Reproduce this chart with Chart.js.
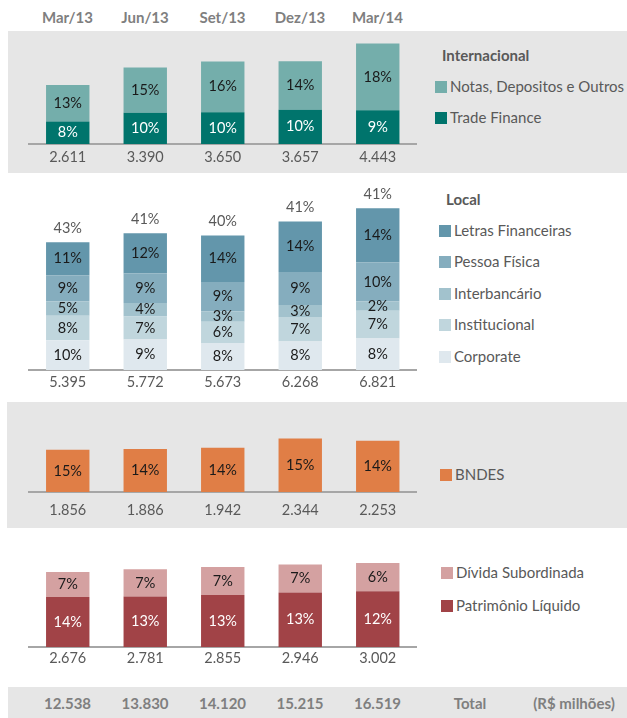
<!DOCTYPE html>
<html><head><meta charset="utf-8">
<script src="https://cdn.jsdelivr.net/npm/chart.js@4.4.1/dist/chart.umd.min.js"></script>
<style>
html,body{margin:0;padding:0;background:#fff;}
body{width:627px;height:718px;position:relative;overflow:hidden;font-family:Lato,"Open Sans",sans-serif;}
.bg{position:absolute;background:#e6e6e6;}
.box{position:absolute;}
.hdr{position:absolute;font-weight:bold;color:#7f7f7f;font-size:15px;transform:translate(-50%,-50%);white-space:nowrap;}
.lg{position:absolute;font-size:15px;color:#595959;white-space:nowrap;transform:translateY(-50%);}
.lg i{display:inline-block;width:12px;height:12px;margin-right:3px;vertical-align:-1px;}
.lt{position:absolute;font-size:15px;font-weight:bold;color:#595959;transform:translateY(-50%);}
</style></head>
<body>
<div class="bg" style="left:8px;top:31px;width:619px;height:142px"></div>
<div class="bg" style="left:7px;top:402px;width:620px;height:126px"></div>
<div class="bg" style="left:8px;top:687px;width:619px;height:31px"></div>
<div id="hdr"></div>
<div id="tot"></div>
<div class="box" style="left:0;top:31px;width:420px;height:142px"><canvas id="c1"></canvas></div>
<div class="box" style="left:0;top:173px;width:420px;height:227px"><canvas id="c2"></canvas></div>
<div class="box" style="left:0;top:402px;width:420px;height:126px"><canvas id="c3"></canvas></div>
<div class="box" style="left:0;top:528px;width:420px;height:159px"><canvas id="c4"></canvas></div>
<div id="legends"></div>
<script>
// ---------- data ----------
const categories = ['Mar/13','Jun/13','Set/13','Dez/13','Mar/14'];
const grandTotals = ['12.538','13.830','14.120','15.215','16.519'];

// Internacional (R$ milhões)
const tradeFinance = [1000, 1380, 1410, 1520, 1490];
const notasDepositos = [1611, 2010, 2240, 2137, 2953];
const tradeFinancePct = ['8%','10%','10%','10%','9%'];
const notasPct = ['13%','15%','16%','14%','18%'];
const intlTotals = ['2.611','3.390','3.650','3.657','4.443'];

// Local
const corporate = [1260, 1290, 1140, 1200, 1330];
const institucional = [1030, 970, 900, 1040, 1170];
const interbancario = [600, 570, 425, 500, 390];
const pessoaFisica = [1110, 1245, 1250, 1390, 1650];
const letrasFinanceiras = [1395, 1697, 1958, 2138, 2281];
const corporatePct = ['10%','9%','8%','8%','8%'];
const institucionalPct = ['8%','7%','6%','7%','7%'];
const interbancarioPct = ['5%','4%','3%','3%','2%'];
const pessoaFisicaPct = ['9%','9%','9%','9%','10%'];
const letrasPct = ['11%','12%','14%','14%','14%'];
const localSharePct = ['43%','41%','40%','41%','41%'];
const localTotals = ['5.395','5.772','5.673','6.268','6.821'];

// BNDES
const bndes = [1856, 1886, 1942, 2344, 2253];
const bndesPct = ['15%','14%','14%','15%','14%'];
const bndesTotals = ['1.856','1.886','1.942','2.344','2.253'];

// Capital
const patrimonio = [1790, 1800, 1860, 1950, 1990];
const dividaSub = [886, 981, 995, 996, 1012];
const patrimonioPct = ['14%','13%','13%','13%','12%'];
const dividaPct = ['7%','7%','7%','7%','6%'];
const capitalTotals = ['2.676','2.781','2.855','2.946','3.002'];

// ---------- styles ----------
const C = {
  notas:'#74aeab', tf:'#00746c',
  lf:'#6396ab', pf:'#85adbe', ib:'#a2c2cd', inst:'#c0d6dd', corp:'#dfe8ee',
  bndes:'#e07e46', ds:'#d4a1a1', pl:'#a14347'
};
const FONT = 'Lato, "Open Sans", sans-serif';
const textGray = '#595959';

// header and total row
const barCenters = [67.5,145,222.5,300,377.5];
let h = '';
categories.forEach((c,i)=>{ h += `<div class="hdr" style="left:${barCenters[i]}px;top:17px">${c}</div>`; });
document.getElementById('hdr').innerHTML = h;
let t = '';
grandTotals.forEach((c,i)=>{ t += `<div class="hdr" style="left:${barCenters[i]}px;top:703px">${c}</div>`; });
t += `<div class="hdr" style="left:470px;top:703px">Total</div>`;
t += `<div class="hdr" style="left:574px;top:703px">(R$ milhões)</div>`;
document.getElementById('tot').innerHTML = t;

// legends
function legend(title, tx, ty, items, bx){
  let s = '';
  if (title) s += `<div class="lt" style="left:${tx}px;top:${ty}px">${title}</div>`;
  items.forEach(it=>{
    s += `<div class="lg" style="left:${bx}px;top:${it[2]}px"><i style="background:${it[1]}"></i>${it[0]}</div>`;
  });
  return s;
}
let L = '';
L += legend('Internacional', 442, 55, [['Notas, Depositos e Outros', C.notas, 86], ['Trade Finance', C.tf, 117]], 435);
L += legend('Local', 446, 199, [['Letras Financeiras', C.lf, 230], ['Pessoa Física', C.pf, 261], ['Interbancário', C.ib, 293], ['Institucional', C.inst, 324], ['Corporate', C.corp, 356]], 439);
L += legend(null, 0, 0, [['BNDES', C.bndes, 474]], 440);
L += legend(null, 0, 0, [['Dívida Subordinada', C.ds, 572], ['Patrimônio Líquido', C.pl, 605]], 441);
document.getElementById('legends').innerHTML = L;

// label plugin
const segLabels = {
  id:'segLabels',
  afterDatasetsDraw(chart){
    const ctx = chart.ctx;
    ctx.save();
    ctx.textAlign = 'center';
    ctx.textBaseline = 'middle';
    ctx.font = '14.5px ' + FONT;
    chart.data.datasets.forEach((ds, di)=>{
      const meta = chart.getDatasetMeta(di);
      meta.data.forEach((el, i)=>{
        if (!ds.pct) return;
        ctx.fillStyle = ds.labelColor || '#1a1a1a';
        const cy = (el.y + el.base)/2;
        ctx.fillText(ds.pct[i], el.x, cy);
      });
    });
    const top = chart.options.plugins.segLabels && chart.options.plugins.segLabels.topLabels;
    if (top) {
      const last = chart.getDatasetMeta(chart.data.datasets.length-1);
      ctx.fillStyle = textGray;
      last.data.forEach((el,i)=>{ ctx.fillText(top[i], el.x, el.y - 14); });
    }
    ctx.restore();
  }
};

function makeChart(id, datasets, totals, yMax, padTop, axisH, tickPad, topLabels){
  return new Chart(document.getElementById(id), {
    type:'bar',
    data:{ labels: categories, datasets },
    options:{
      responsive:true, maintainAspectRatio:false, animation:false, events:[],
      layout:{ padding:{ left:29, right:3.5, top:padTop, bottom:0 } },
      datasets:{ bar:{ categoryPercentage:1, barPercentage:0.56, borderWidth:0 } },
      plugins:{ legend:{display:false}, tooltip:{enabled:false}, segLabels:{ topLabels } },
      scales:{
        x:{ stacked:true,
            grid:{ display:false, drawTicks:false },
            border:{ display:true, color:'#a6a6a6', width:2 },
            ticks:{ padding:tickPad, color:textGray, font:{ family:FONT, size:14.5 }, maxRotation:0,
                    callback:(v,i)=>totals[i] },
            afterFit:(s)=>{ s.height = axisH; } },
        y:{ stacked:true, display:false, min:0, max:yMax }
      }
    },
    plugins:[segLabels]
  });
}

makeChart('c1', [
  { label:'Trade Finance', data:tradeFinance, backgroundColor:C.tf, pct:tradeFinancePct, labelColor:'#ffffff' },
  { label:'Notas, Depositos e Outros', data:notasDepositos, backgroundColor:C.notas, pct:notasPct }
], intlTotals, 4558, 10, 29, 4.5);

makeChart('c2', [
  { label:'Corporate', data:corporate, backgroundColor:C.corp, pct:corporatePct },
  { label:'Institucional', data:institucional, backgroundColor:C.inst, pct:institucionalPct },
  { label:'Interbancário', data:interbancario, backgroundColor:C.ib, pct:interbancarioPct },
  { label:'Pessoa Física', data:pessoaFisica, backgroundColor:C.pf, pct:pessoaFisicaPct },
  { label:'Letras Financeiras', data:letrasFinanceiras, backgroundColor:C.lf, pct:letrasPct }
], localTotals, 7468, 20, 30, 3.5, localSharePct);

makeChart('c3', [
  { label:'BNDES', data:bndes, backgroundColor:C.bndes, pct:bndesPct }
], bndesTotals, 3509, 10, 36, 9.5);

makeChart('c4', [
  { label:'Patrimônio Líquido', data:patrimonio, backgroundColor:C.pl, pct:patrimonioPct, labelColor:'#ffffff' },
  { label:'Dívida Subordinada', data:dividaSub, backgroundColor:C.ds, pct:dividaPct }
], capitalTotals, 3536, 20, 40, 2.5);
</script>
</body></html>
